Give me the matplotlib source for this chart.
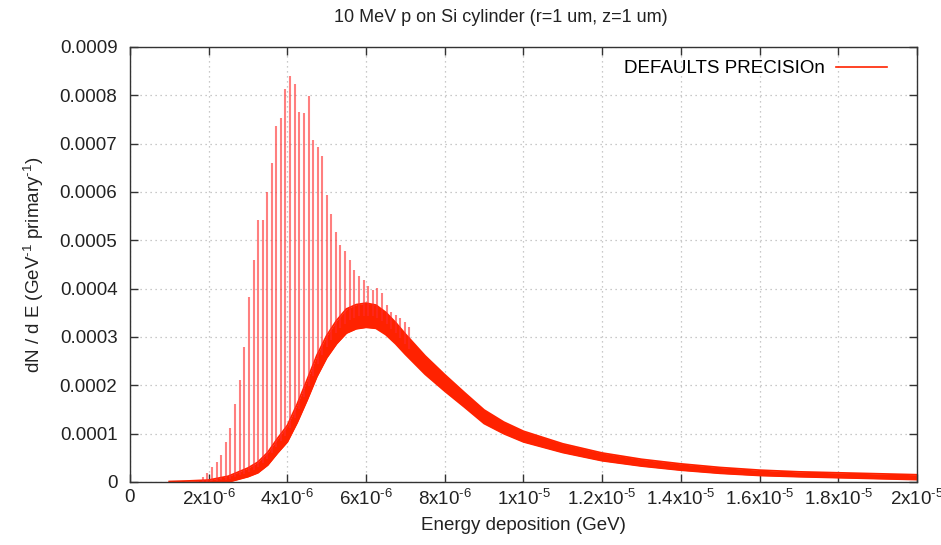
import matplotlib
matplotlib.use("Agg")
import matplotlib.pyplot as plt
import numpy as np

plt.rcParams['font.family'] = ['Liberation Sans', 'DejaVu Sans']
plt.rcParams['mathtext.fontset'] = 'custom'
plt.rcParams['mathtext.rm'] = 'Liberation Sans'
plt.rcParams['mathtext.it'] = 'Liberation Sans'
plt.rcParams['mathtext.default'] = 'regular'

E_UNIT = 1e-6   # energies below are in units of 1e-6 GeV
Y_UNIT = 1e-4   # dN/dE values below are in units of 1e-4

# smooth part of the spectrum (centre of the noisy band) and its half thickness
base_e = [1.0, 1.5, 2.0, 2.5, 3.0, 3.25, 3.5, 3.75, 4.0, 4.25, 4.5, 4.75, 5.0,
          5.25, 5.5, 5.75, 6.0, 6.25, 6.5, 6.75, 7.0, 7.5, 8.0, 8.5, 9.0, 9.5,
          10, 11, 12, 13, 14, 15, 16, 17, 18, 19, 20]
base_v = [0.0, 0.002, 0.01, 0.06, 0.2, 0.3, 0.48, 0.75, 1.0, 1.42, 1.9, 2.4, 2.8,
          3.1, 3.33, 3.42, 3.45, 3.42, 3.28, 3.08, 2.85, 2.42, 2.05, 1.7, 1.35, 1.12,
          0.94, 0.70, 0.52, 0.40, 0.31, 0.24, 0.19, 0.16, 0.14, 0.12, 0.10]
base_hw = [0.01, 0.02, 0.03, 0.06, 0.09, 0.11, 0.13, 0.15, 0.17, 0.19, 0.21, 0.22, 0.23,
           0.24, 0.25, 0.25, 0.25, 0.24, 0.23, 0.22, 0.21, 0.19, 0.17, 0.15, 0.14, 0.12,
           0.11, 0.09, 0.08, 0.07, 0.065, 0.06, 0.055, 0.05, 0.05, 0.05, 0.05]

# comb of narrow peaks on the rising edge: position, foot and top
spike_e = [1.74, 1.85, 1.97, 2.09, 2.20, 2.32, 2.44, 2.55, 2.67, 2.79, 2.90, 3.02,
           3.14, 3.25, 3.37, 3.49, 3.60, 3.72, 3.84, 3.95, 4.07, 4.19, 4.30, 4.42,
           4.54, 4.65, 4.77, 4.89, 5.00, 5.12, 5.24, 5.35, 5.47, 5.59, 5.70, 5.82,
           5.94, 6.05, 6.17, 6.29, 6.40, 6.52, 6.64, 6.75, 6.87, 6.99, 7.10]
spike_lo = [0.006, 0.007, 0.009, 0.02, 0.03, 0.04, 0.05, 0.07, 0.10, 0.14, 0.17, 0.20,
            0.25, 0.30, 0.39, 0.47, 0.59, 0.72, 0.84, 0.95, 1.12, 1.32, 1.51, 1.75,
            1.98, 2.20, 2.44, 2.62, 2.80, 2.94, 3.09, 3.18, 3.27, 3.36, 3.40, 3.43,
            3.44, 3.44, 3.43, 3.40, 3.34, 3.27, 3.17, 3.08, 2.97, 2.86, 2.76]
spike_hi = [0.03, 0.10, 0.18, 0.30, 0.42, 0.56, 0.83, 1.11, 1.61, 2.11, 2.80, 3.82,
            4.59, 5.42, 5.42, 5.99, 6.61, 7.37, 7.53, 8.13, 8.40, 8.23, 7.66, 7.64,
            7.99, 7.08, 6.93, 6.75, 5.94, 5.55, 5.18, 4.90, 4.78, 4.59, 4.39, 4.26,
            4.18, 4.06, 3.97, 4.01, 3.91, 3.66, 3.52, 3.45, 3.40, 3.30, 3.21]

x_ticks = [0, 2e-6, 4e-6, 6e-6, 8e-6, 1e-5, 1.2e-5, 1.4e-5, 1.6e-5, 1.8e-5, 2e-5]
x_labels = ['0', r'2x10$^{\text{-6}}$', r'4x10$^{\text{-6}}$', r'6x10$^{\text{-6}}$',
            r'8x10$^{\text{-6}}$', r'1x10$^{\text{-5}}$', r'1.2x10$^{\text{-5}}$',
            r'1.4x10$^{\text{-5}}$', r'1.6x10$^{\text{-5}}$', r'1.8x10$^{\text{-5}}$',
            r'2x10$^{\text{-5}}$']
y_ticks = [0, 1e-4, 2e-4, 3e-4, 4e-4, 5e-4, 6e-4, 7e-4, 8e-4, 9e-4]
y_labels = ['0', '0.0001', '0.0002', '0.0003', '0.0004', '0.0005',
            '0.0006', '0.0007', '0.0008', '0.0009']

RED = '#ff2200'

fig = plt.figure(figsize=(9.41, 5.45), dpi=100)
ax = fig.add_axes([0.1381, 0.1156, 0.8364, 0.7982])

be = np.array(base_e) * E_UNIT
bv = np.array(base_v) * Y_UNIT
bw = np.array(base_hw) * Y_UNIT
ax.fill_between(be, bv - bw, bv + bw, color=RED, lw=0)
ax.plot(be, bv + bw, color=RED, lw=1.3)
ax.plot(be, bv - bw, color=RED, lw=1.3)

ax.vlines(np.array(spike_e) * E_UNIT, np.array(spike_lo) * Y_UNIT,
          np.array(spike_hi) * Y_UNIT, color='#ff2a2a', lw=1.5, alpha=0.6)

# legend entry only
ax.plot([], [], color=RED, lw=1.2, label='DEFAULTS PRECISIOn')
ax.legend(loc='upper right', frameon=False, markerfirst=False, fontsize=13.5,
          handlelength=2.7, handletextpad=0.6, borderaxespad=0.3,
          bbox_to_anchor=(0.978, 1.0))

ax.set_xlim(0, 2e-5)
ax.set_ylim(0, 9e-4)
ax.set_xticks(x_ticks)
ax.set_xticklabels(x_labels)
ax.set_yticks(y_ticks)
ax.set_yticklabels(y_labels)
ax.tick_params(direction='in', length=6, width=1, color='#333333',
               top=True, right=True, labelsize=13.5, labelcolor='#222222')
ax.tick_params(axis='x', pad=5)
ax.tick_params(axis='y', pad=9)
ax.grid(True, color='#b8b8b8', lw=0.9, linestyle=(0, (1, 3)))
ax.set_axisbelow(True)
for s in ax.spines.values():
    s.set_color('#333333')
    s.set_linewidth(1.0)

ax.set_xlabel('Energy deposition (GeV)', fontsize=13.5, color='#222222', labelpad=6)
ax.set_ylabel(r'dN / d E (GeV$^{\text{-1}}$ primary$^{\text{-1}}$)', fontsize=13.5,
              color='#222222', labelpad=10)
fig.text(501 / 941, 1 - 18 / 545, '10 MeV p on Si cylinder (r=1 um, z=1 um)',
         ha='center', va='center', fontsize=13, color='#222222')

fig.savefig('out.png', dpi=100)
